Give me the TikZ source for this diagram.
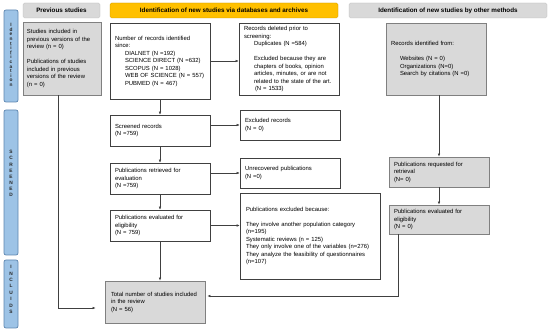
\documentclass[tikz,border=0pt]{standalone}
\usepackage{fontspec}
\setmainfont{Liberation Sans}
\usepackage{tikz}
\usetikzlibrary{arrows.meta,positioning}
\definecolor{sideblue}{HTML}{9DC3E6}
\definecolor{sideline}{HTML}{5E86B0}
\definecolor{gold}{HTML}{FFC000}
\definecolor{goldline}{HTML}{BF9000}
\definecolor{boxgray}{HTML}{D9D9D9}
\definecolor{lineg}{HTML}{404040}
\hyphenpenalty=10000

\begin{document}
\begin{tikzpicture}[x=1pt, y=-1pt, every node/.style={font=\fontsize{5.9}{7.5}\selectfont}, box/.style={draw=lineg, line width=0.6pt, fill=white, align=left, inner xsep=5pt, inner ysep=0pt, text width=90pt}, gbox/.style={box, draw=black!50, line width=0.9pt, fill=boxgray}, hdr/.style={rounded corners=1.5pt, fill=boxgray, draw=boxgray!85!black, line width=0.3pt, minimum height=15pt, inner sep=0pt, font=\fontsize{6.3}{7}\selectfont\bfseries}, side/.style={rounded corners=2pt, fill=sideblue, draw=sideline, line width=0.7pt, minimum width=14pt, inner sep=0pt}, lett/.style={align=center, inner sep=0pt, text=black!85, font=\fontsize{4.8}{#1}\selectfont\bfseries}, arr/.style={-{Latex[length=3pt,width=2.6pt]}, lineg, line width=0.5pt}]
\useasboundingbox (0,0) rectangle (550,331);
% phase bars on the left
\node[side, minimum height=92pt] (sid) at (11,56) {};\node[side, minimum height=145pt] (sscr) at (11,182.5) {};\node[side, minimum height=68pt] (sinc) at (11,294) {};
\node[lett=4.6pt] at (11,55) {I\\d\\e\\n\\t\\i\\f\\i\\c\\a\\t\\i\\o\\n};
\node[lett=6.1pt] at (11,173.5) {S\\C\\R\\E\\E\\N\\E\\D};
\node[lett=6.4pt] at (11,289.5) {I\\N\\C\\L\\U\\I\\D\\S};
% column headers
\node[hdr, minimum width=77pt] (hprev) at (61.5,10.5) {Previous studies};
\node[hdr, minimum width=228pt, fill=gold, draw=goldline] (hdb) at (224,10.5) {Identification of new studies via databases and archives};
\node[hdr, minimum width=198pt] (hoth) at (448,10.5) {Identification of new studies by other methods};
% previous studies
\node[gbox, text width=70pt, inner xsep=4pt, minimum height=73pt] (prev) at (62,58.5) {Studies included in\\previous versions of the\\review (n = 0)\\[7.5pt]Publications of studies\\included in previous\\versions of the review\\(n = 0)};
% databases and archives
\node[box, minimum height=76pt] (rec) at (160,61) {Number of records identified\\since:\\\hspace*{10pt}DIALNET (N =192)\\\hspace*{10pt}SCIENCE DIRECT (N =632)\\\hspace*{10pt}SCOPUS (N = 1028)\\\hspace*{10pt}WEB OF SCIENCE (N = 557)\\\hspace*{10pt}PUBMED (N = 467)};
\node[box, minimum height=72pt] (del) at (289,59) {Records deleted prior to\\screening:\\\hspace*{10pt}Duplicates (N =584)\\[7.5pt]\hspace*{10pt}Excluded because they are\\\hspace*{10pt}chapters of books, opinion\\\hspace*{10pt}articles, minutes, or are not\\\hspace*{10pt}related to the state of the art.\\\hspace*{11pt}(N = 1533)};
\node[box, minimum height=31pt] (scr) at (160,130.5) {Screened records\\(N =759)};
\node[box, minimum height=30pt] (exr) at (290,125) {Excluded records\\(N = 0)};
\node[box, minimum height=31pt] (ret) at (160,178.5) {Publications retrieved for\\evaluation\\(N =759)};
\node[box, minimum height=30pt] (unr) at (290,173) {Unrecovered publications\\(N =0)};
\node[box, minimum height=31pt] (eva) at (160,225.5) {Publications evaluated for\\eligibility\\(N = 759)};
\node[box, text width=128pt, inner xsep=6pt, minimum height=86pt] (exc) at (310,236) {Publications excluded because:\\[7.5pt]They involve another population category\\(n=195)\\Systematic reviews (n = 125)\\They only involve one of the variables (n=276)\\They analyze the feasibility of questionnaires\\(n=107)};
\node[gbox, text width=88pt, inner xsep=6pt, minimum height=42pt] (tot) at (155,302) {Total number of studies included\\in the review\\(N = 56)};
% other methods
\node[gbox, minimum height=72pt] (oth) at (436,59) {Records identified from:\\[7.5pt]\hspace*{9pt}Websites (N = 0)\\\hspace*{9pt}Organizations (N=0)\\\hspace*{9pt}Search by citations (N =0)\\[4pt]};
\node[gbox, minimum height=30pt] (req) at (439,172) {Publications requested for\\retrieval\\(N= 0)};
\node[gbox, minimum height=29pt] (ev2) at (439,219.5) {Publications evaluated for\\eligibility\\(N = 0)};
% connectors
\draw[arr] (rec.east) -- (rec.east -| del.west);
\draw[arr] (rec.south) -- (scr.north);\draw[arr] (scr.south) -- (ret.north);\draw[arr] (ret.south) -- (eva.north);
\draw[arr] (scr.east |- exr.west) -- (exr.west);\draw[arr] (ret.east |- unr.west) -- (unr.west);\draw[arr] (eva.east) -- (eva.east -| exc.west);
\draw[arr] (eva.south) -- (eva.south |- tot.north);
\draw[arr] ([xshift=-4pt]prev.south) |- ([yshift=-6pt, xshift=-9pt]tot.west);
\draw[arr] (req.north |- oth.south) -- (req.north);\draw[arr] (req.south) -- (ev2.north);
\draw[arr] ([xshift=10pt]ev2.south west) |- ([yshift=6pt, xshift=2pt]tot.east);
\end{tikzpicture}
\end{document}
